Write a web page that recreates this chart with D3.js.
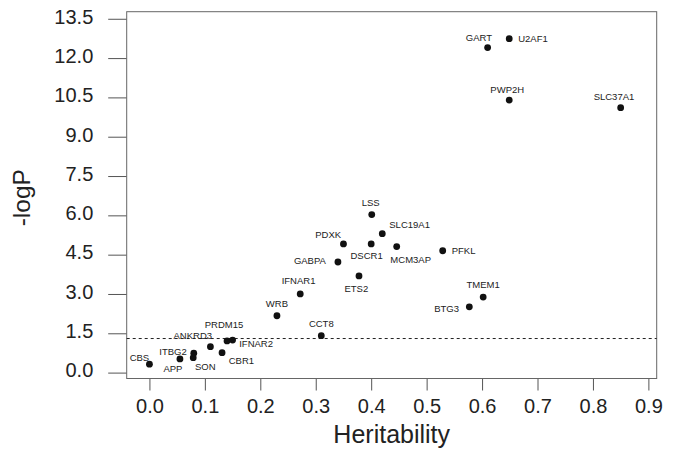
<!DOCTYPE html>
<html lang="en">
<head>
    <meta charset="UTF-8">
    <script src="https://cdn.jsdelivr.net/npm/d3@7"></script>
    <title>Heritability vs -logP</title>
    <style>
        html,
        body {
            margin: 0px;
            padding: 0px;
            background-color: #ffffff;
            font-family: "Liberation Sans", Arial, sans-serif;
        }
        #chart text {
            fill: #222;
        }
    </style>
</head>
<body>
    <div id="chart"></div>
    <script>

        // values
        const genes = ['CBS', 'APP', 'ITBG2', 'SON', 'ANKRD3', 'CBR1', 'PRDM15', 'IFNAR2',
            'WRB', 'CCT8', 'IFNAR1', 'GABPA', 'PDXK', 'ETS2', 'DSCR1', 'LSS', 'SLC19A1',
            'MCM3AP', 'PFKL', 'BTG3', 'TMEM1', 'GART', 'U2AF1', 'PWP2H', 'SLC37A1'];
        const heritability = [0.00, 0.055, 0.080, 0.079, 0.110, 0.131, 0.140, 0.150,
            0.230, 0.310, 0.272, 0.340, 0.350, 0.378, 0.400, 0.401, 0.420,
            0.446, 0.529, 0.577, 0.602, 0.610, 0.649, 0.649, 0.850];
        const logP = [0.32, 0.52, 0.74, 0.57, 0.99, 0.76, 1.21, 1.24,
            2.17, 1.41, 3.00, 4.22, 4.91, 3.69, 4.91, 6.03, 5.30,
            4.81, 4.65, 2.51, 2.88, 12.40, 12.74, 10.40, 10.11];
        const xTicks = [0, 0.1, 0.2, 0.3, 0.4, 0.5, 0.6, 0.7, 0.8, 0.9];
        const yTicks = [0, 1.5, 3, 4.5, 6, 7.5, 9, 10.5, 12, 13.5];
        const threshold = 1.3;

        // label placement next to each point: [dx, dy, anchor]
        const labelAt = {
            CBS: [-10, -6.6, 'middle'], APP: [-7, 10, 'middle'], ITBG2: [-7, -1.6, 'end'],
            SON: [12, 9, 'middle'], ANKRD3: [-17.6, -10.7, 'middle'], CBR1: [6.7, 7.7, 'start'],
            PRDM15: [-3, -16, 'middle'], IFNAR2: [6.6, 4, 'start'], WRB: [0, -12.4, 'middle'],
            CCT8: [0, -12.4, 'middle'], IFNAR1: [-1.7, -13.3, 'middle'], GABPA: [-12, -1, 'end'],
            PDXK: [-2.3, -9.7, 'end'], ETS2: [-2.7, 12.3, 'middle'], DSCR1: [-4.6, 12, 'middle'],
            LSS: [-1, -11.4, 'middle'], SLC19A1: [7, -9.4, 'start'], MCM3AP: [14, 13.3, 'middle'],
            PFKL: [9, 0.3, 'start'], BTG3: [-10.3, 2.3, 'end'], TMEM1: [0, -12.3, 'middle'],
            GART: [-8.7, -10, 'middle'], U2AF1: [9, 0, 'start'], PWP2H: [-2, -10.7, 'middle'],
            SLC37A1: [-6.7, -11, 'middle']
        };

        let width = 673;
        let height = 450;
        let box = {left: 126.7, right: 656.7, top: 11.7, bottom: 378.5};

        let svg = d3.select('#chart').append('svg')
            .attr('width', width)
            .attr('height', height);

        let x = d3.scaleLinear().domain([-0.041, 0.915]).range([box.left, box.right]);
        let y = d3.scaleLinear().domain([-0.225, 13.77]).range([box.bottom, box.top]);

        let points = genes.map((g, i) => ({gene: g, h: heritability[i], p: logP[i]}));

        // x axis
        let xAxis = svg.append('g')
            .attr('transform', `translate(0,${box.bottom})`)
            .call(d3.axisBottom(x).tickValues(xTicks).tickSize(12).tickFormat(d3.format('.1f')));
        xAxis.select('.domain').remove();
        xAxis.selectAll('.tick line').attr('stroke', '#555');
        xAxis.selectAll('.tick text')
            .attr('y', 34.5)
            .attr('dy', 0)
            .attr('font-size', '20px')
            .attr('font-family', '"Liberation Sans", Arial, sans-serif');

        // y axis
        let yAxis = svg.append('g')
            .attr('transform', `translate(${box.left},0)`)
            .call(d3.axisLeft(y).tickValues(yTicks).tickSize(18.5).tickFormat(d3.format('.1f')));
        yAxis.select('.domain').remove();
        yAxis.selectAll('.tick line').attr('stroke', '#555');
        yAxis.selectAll('.tick text')
            .attr('x', -33.4)
            .attr('dy', 4.3)
            .attr('font-size', '20px')
            .attr('font-family', '"Liberation Sans", Arial, sans-serif');

        // plot frame
        svg.append('rect')
            .attr('x', box.left)
            .attr('y', box.top)
            .attr('width', box.right - box.left)
            .attr('height', box.bottom - box.top)
            .attr('fill', 'none')
            .attr('stroke', '#666')
            .attr('stroke-width', 1);

        // significance line
        svg.append('line')
            .attr('x1', box.left)
            .attr('x2', box.right)
            .attr('y1', y(threshold))
            .attr('y2', y(threshold))
            .attr('stroke', '#222')
            .attr('stroke-width', 1)
            .attr('stroke-dasharray', '3,3');

        // points
        svg.append('g').selectAll('circle')
            .data(points)
            .join('circle')
            .attr('cx', d => x(d.h))
            .attr('cy', d => y(d.p))
            .attr('r', 3.4)
            .attr('fill', '#111');

        // gene labels
        svg.append('g').selectAll('text')
            .data(points)
            .join('text')
            .attr('x', d => x(d.h) + labelAt[d.gene][0])
            .attr('y', d => y(d.p) + labelAt[d.gene][1])
            .attr('dy', '0.35em')
            .attr('text-anchor', d => labelAt[d.gene][2])
            .attr('font-size', '9.5px')
            .text(d => d.gene);

        // axis titles
        svg.append('text')
            .attr('x', (box.left + box.right) / 2)
            .attr('y', 443.3)
            .attr('text-anchor', 'middle')
            .attr('font-size', '25px')
            .text('Heritability');

        svg.append('text')
            .attr('transform', 'translate(29.5,197.7) rotate(-90)')
            .attr('text-anchor', 'middle')
            .attr('font-size', '24.5px')
            .text('-logP');

    </script>
</body>
</html>
